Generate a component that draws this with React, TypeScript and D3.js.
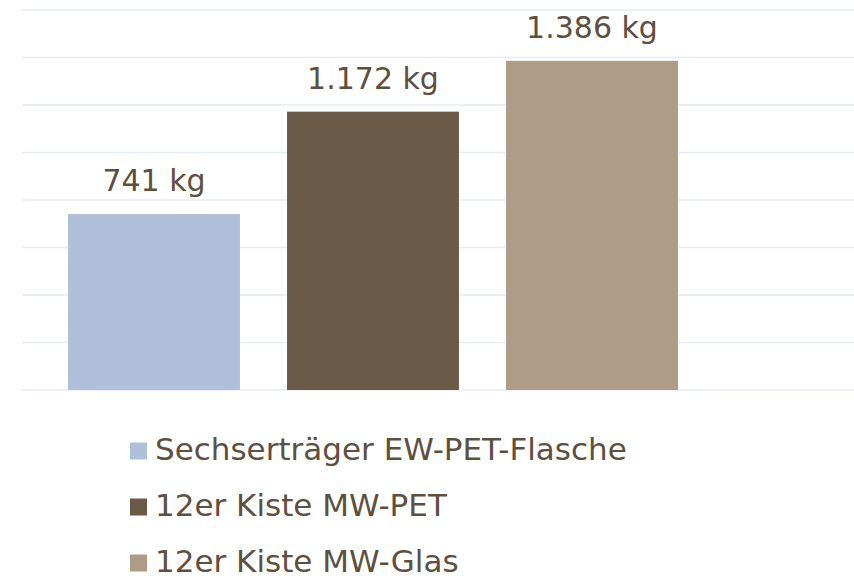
import * as d3 from "d3";
import {useRef, useEffect} from "react";

const categories = ["Sechserträger EW-PET-Flasche", "12er Kiste MW-PET", "12er Kiste MW-Glas"];
const values = [741, 1172, 1386];
const valueLabels = ["741 kg", "1.172 kg", "1.386 kg"];
const colors = ["#b0c0da", "#6b5a48", "#ae9c87"];
const gridTicks = [0, 200, 400, 600, 800, 1000, 1200, 1400, 1600];

export default function App() {
    const svgRef = useRef(null);
    const width = 854;
    const height = 579;

    useEffect(() => {
        document.body.style.margin = "0";
        const svg = d3.select(svgRef.current);
        svg.selectAll("*").remove();
        svg.attr("width", width).attr("height", height);

        const textColor = "#5e4f3f";
        const font = "'DejaVu Sans', sans-serif";

        const x = d3.scaleBand<string>()
            .domain(categories)
            .range([44.5, 701.5])
            .paddingInner(0.215)
            .paddingOuter(0.1075);

        const y = d3.scaleLinear()
            .domain([0, 1600])
            .range([390, 10]);

        // gridlines
        svg.append("g")
            .selectAll("line")
            .data(gridTicks)
            .join("line")
            .attr("x1", 22)
            .attr("x2", width)
            .attr("y1", d => y(d))
            .attr("y2", d => y(d))
            .attr("stroke", "#e6ecf5")
            .attr("stroke-width", 1.5);

        // bars
        svg.append("g")
            .selectAll("rect")
            .data(values)
            .join("rect")
            .attr("x", (d, i) => x(categories[i])!)
            .attr("y", d => y(d))
            .attr("width", x.bandwidth())
            .attr("height", d => y(0) - y(d))
            .attr("fill", (d, i) => colors[i]);

        // value labels
        svg.append("g")
            .selectAll("text")
            .data(values)
            .join("text")
            .attr("x", (d, i) => x(categories[i])! + x.bandwidth() / 2)
            .attr("y", d => y(d) - 23)
            .attr("text-anchor", "middle")
            .attr("font-family", font)
            .attr("font-size", 30)
            .attr("fill", textColor)
            .text((d, i) => valueLabels[i]);

        // legend
        const legend = svg.append("g")
            .selectAll("g")
            .data(categories)
            .join("g")
            .attr("transform", (d, i) => `translate(130,${460 + i * 56})`);

        legend.append("rect")
            .attr("x", 0)
            .attr("y", -17.5)
            .attr("width", 17)
            .attr("height", 17)
            .attr("fill", (d, i) => colors[i]);

        legend.append("text")
            .attr("x", 25)
            .attr("y", 0)
            .attr("font-family", font)
            .attr("font-size", 31)
            .attr("fill", textColor)
            .text(d => d);
    }, []);

    return (
        <svg ref={svgRef} style={{display: "block"}} />
    );
}
